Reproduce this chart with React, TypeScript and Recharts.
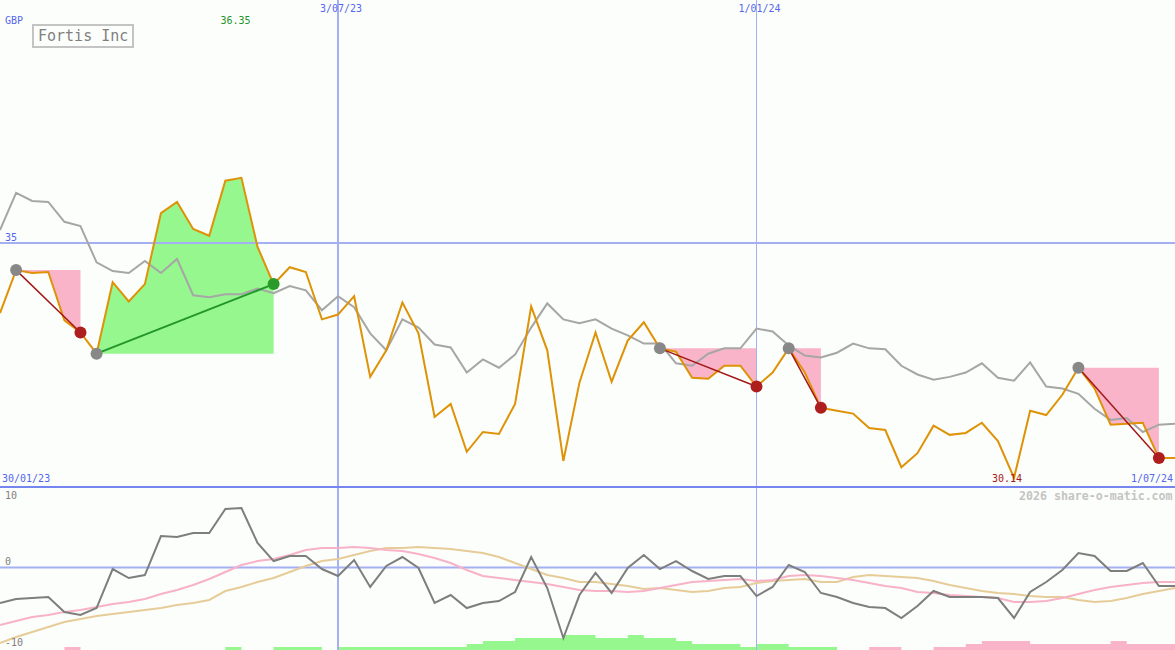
import React from 'react';
import { ComposedChart, Line, Area, XAxis, YAxis, ReferenceLine } from 'recharts';

// weekly closes, 30/01/23 .. 1/07/24 (GBP)
const price = [
  33.55, 34.44, 34.38, 34.4, 33.4, 33.15, 32.71, 34.19, 33.79, 34.15,
  35.62, 35.85, 35.29, 35.15, 36.29, 36.35, 34.92, 34.15, 34.5, 34.4,
  33.42, 33.52, 33.9, 32.23, 32.78, 33.77, 33.13, 31.4, 31.67, 30.68,
  31.09, 31.05, 31.67, 33.69, 32.78, 30.49, 32.11, 33.15, 32.13, 32.98,
  33.36, 32.82, 32.75, 32.21, 32.19, 32.46, 32.46, 32.03, 32.32, 32.82,
  32.32, 31.59, 31.53, 31.47, 31.17, 31.13, 30.36, 30.65, 31.22, 31.03,
  31.07, 31.28, 30.9, 30.14, 31.53, 31.44, 31.86, 32.42, 31.99, 31.24,
  31.26, 31.28, 30.55, 30.55,
];

// grey comparison line
const sector = [
  35.27, 36.04, 35.87, 35.85, 35.44, 35.35, 34.6, 34.42, 34.38, 34.63,
  34.38, 34.67, 33.92, 33.88, 33.94, 33.94, 34.06, 33.96, 34.11, 34.02,
  33.61, 33.9, 33.67, 33.13, 32.78, 33.42, 33.25, 32.9, 32.84, 32.32,
  32.59, 32.42, 32.69, 33.25, 33.75, 33.42, 33.34, 33.42, 33.23, 33.09,
  32.92, 32.92, 32.51, 32.46, 32.71, 32.82, 32.82, 33.23, 33.17, 32.88,
  32.67, 32.63, 32.73, 32.92, 32.82, 32.8, 32.46, 32.28, 32.17, 32.23,
  32.32, 32.51, 32.21, 32.15, 32.53, 32.03, 31.99, 31.88, 31.57, 31.34,
  31.38, 31.09, 31.24, 31.26,
];

// lower panel
const momentum = [
  -5.38, -4.77, -4.62, -4.47, -6.74, -7.2, -6.14, -0.23, -1.59, -1.14,
  4.77, 4.62, 5.23, 5.23, 8.86, 9.02, 3.71, 0.98, 1.74, 1.74,
  -0.23, -1.29, 1.14, -2.95, 0.23, 1.59, -0.08, -5.38, -4.17, -6.14,
  -5.38, -5.08, -3.71, 1.59, -3.11, -10.68, -4.17, -0.83, -3.86, -0.08,
  1.89, -0.23, 0.98, -0.53, -1.74, -1.29, -1.29, -4.32, -2.95, 0.38,
  -0.68, -3.86, -4.47, -5.38, -5.98, -6.14, -7.65, -5.83, -3.56, -4.47,
  -4.47, -4.47, -4.62, -7.65, -3.71, -2.2, -0.38, 2.2, 1.74, -0.53,
  -0.53, 0.68, -2.8, -2.8,
];

const fastAvg = [
  -8.71, -8.11, -7.5, -7.2, -6.74, -6.44, -5.98, -5.53, -5.23, -4.77,
  -4.02, -3.41, -2.65, -1.74, -0.68, 0.38, 0.98, 1.29, 1.89, 2.65,
  2.95, 2.95, 3.11, 2.95, 2.65, 2.5, 2.05, 1.44, 0.68, -0.38,
  -1.29, -1.59, -1.89, -2.2, -2.5, -2.95, -3.41, -3.56, -3.56, -3.71,
  -3.56, -3.11, -2.65, -2.2, -2.05, -1.89, -1.74, -2.05, -1.89, -1.29,
  -1.14, -1.29, -1.59, -1.89, -2.35, -2.8, -3.11, -3.71, -3.86, -4.17,
  -4.32, -4.47, -4.62, -5.23, -5.23, -5.08, -4.62, -4.02, -3.41, -2.95,
  -2.65, -2.35, -2.2, -2.2,
];

const slowAvg = [
  -11.44, -10.53, -9.77, -9.02, -8.26, -7.8, -7.35, -7.05, -6.74, -6.44,
  -6.14, -5.68, -5.38, -4.92, -3.56, -2.95, -2.2, -1.59, -0.68, 0.23,
  0.98, 1.29, 1.89, 2.5, 2.95, 2.95, 3.11, 2.95, 2.8, 2.5,
  2.2, 1.59, 0.68, -0.23, -1.14, -1.59, -2.2, -2.2, -2.5, -2.8,
  -3.26, -3.11, -3.41, -3.71, -3.56, -3.11, -2.95, -2.35, -2.05, -1.89,
  -1.74, -2.2, -2.2, -1.44, -1.14, -1.29, -1.44, -1.59, -2.05, -2.65,
  -3.11, -3.56, -3.86, -4.02, -4.32, -4.47, -4.47, -4.92, -5.23, -5.08,
  -4.62, -4.02, -3.56, -3.11,
];

// histogram steps (+ green, - pink)
const hist = [
  0, 0, 0, 0, -1, 0, 0, 0, 0, 0,
  0, 0, 0, 0, 1, 0, 0, 1, 1, 1,
  0, 1, 1, 1, 1, 1, 1, 1, 1, 2,
  3, 3, 4, 4, 4, 5, 5, 4, 4, 5,
  4, 4, 3, 2, 2, 2, 1, 2, 2, 1,
  1, 1, 0, 0, -1, -1, 0, 0, -1, -1,
  -2, -3, -3, -3, -2, -2, -2, -2, -2, -3,
  -2, -2, -2, 0,
];

// signals: week index of entry and exit
const trades = [
  { from: 1, to: 5 },
  { from: 6, to: 17 },
  { from: 41, to: 47 },
  { from: 49, to: 51 },
  { from: 67, to: 72 },
];

const dateLines = [
  { at: 21, label: '3/07/23', w: 2 },
  { at: 47, label: '1/01/24', w: 1 },
];

const W = 1175;
const TOP_H = 488;
const BOT_H = 162;
const LAST = price.length - 1;
const STEP = W / LAST;

const GRID = '#a4b0f2';
const BLUE = '#5566ee';

const rows = price.map((p, i) => {
  const row: Record<string, number | null> = {
    i,
    price: p,
    sector: sector[i],
    mom: momentum[i],
    fast: fastAvg[i],
    slow: slowAvg[i],
    up: hist[i] > 0 ? hist[i] : 0,
    down: hist[i] < 0 ? -hist[i] : 0,
  };
  trades.forEach((t, k) => {
    row['a' + k] = i >= t.from && i <= t.to ? p : null;
    row['t' + k] = i === t.from || i === t.to ? p : null;
  });
  return row;
});

const hiIdx = price.indexOf(Math.max(...price));
const loIdx = price.indexOf(Math.min(...price));

const tradeDot = (t: { from: number; to: number }, k: number) => (props: any) => {
  const { cx, cy, index } = props;
  const key = 'd' + k + '-' + index;
  if (cy == null || cx == null || (index !== t.from && index !== t.to)) return <g key={key} />;
  const win = price[t.to] > price[t.from];
  const fill = index === t.from ? '#888888' : win ? '#2a9a2a' : '#ae1e1e';
  return <circle key={key} cx={cx} cy={cy} r={6} fill={fill} stroke="none" />;
};

const Txt = ({ x, y, color, size = 10, bold = false, children }: any) => (
  <div
    style={{
      position: 'absolute',
      left: x,
      top: y,
      color,
      fontSize: size,
      lineHeight: '12px',
      fontWeight: bold ? 'bold' : 'normal',
      whiteSpace: 'nowrap',
    }}
  >
    {children}
  </div>
);

export default function App() {
  return (
    <div
      style={{
        position: 'absolute',
        left: 0,
        top: 0,
        width: W,
        height: 650,
        background: '#fcfefb',
        overflow: 'hidden',
        fontFamily: '"DejaVu Sans Mono", monospace',
      }}
    >
      <div style={{ position: 'absolute', left: 0, top: 0 }}>
        <ComposedChart width={W} height={TOP_H} data={rows} margin={{ top: 0, right: 0, bottom: 0, left: 0 }}>
          <XAxis type="number" dataKey="i" domain={[0, LAST]} allowDataOverflow hide />
          <YAxis type="number" domain={[29.93, 40.03]} allowDataOverflow hide />
          <ReferenceLine y={35} stroke={GRID} strokeWidth={2} />
          {dateLines.map((d) => (
            <ReferenceLine key={d.label} x={d.at} stroke={GRID} strokeWidth={d.w} />
          ))}
          {trades.map((t, k) => (
            <Area
              key={'a' + k}
              dataKey={'a' + k}
              type="linear"
              baseValue={price[t.from]}
              stroke="none"
              fill={price[t.to] > price[t.from] ? '#96f78e' : '#f9b4ca'}
              fillOpacity={1}
              isAnimationActive={false}
              dot={false}
              activeDot={false}
            />
          ))}
          <Line dataKey="sector" type="linear" stroke="#a6a6a6" strokeWidth={2} dot={false} activeDot={false} isAnimationActive={false} />
          <Line dataKey="price" type="linear" stroke="#de9206" strokeWidth={2} dot={false} activeDot={false} isAnimationActive={false} />
          {trades.map((t, k) => (
            <Line
              key={'t' + k}
              dataKey={'t' + k}
              type="linear"
              connectNulls
              stroke={price[t.to] > price[t.from] ? '#22962a' : '#a41818'}
              strokeWidth={price[t.to] > price[t.from] ? 2 : 1.5}
              dot={tradeDot(t, k)}
              activeDot={false}
              isAnimationActive={false}
            />
          ))}
        </ComposedChart>
      </div>

      <div style={{ position: 'absolute', left: 0, top: TOP_H - 2, width: W, height: 2, background: '#7686ee' }} />

      <div style={{ position: 'absolute', left: 0, top: TOP_H }}>
        <ComposedChart width={W} height={BOT_H} data={rows} margin={{ top: 0, right: 0, bottom: 0, left: 0 }}>
          <XAxis type="number" dataKey="i" domain={[0, LAST]} allowDataOverflow hide />
          <YAxis yAxisId="osc" type="number" domain={[-12.5, 12.05]} allowDataOverflow hide />
          <YAxis yAxisId="hist" type="number" domain={[0, 54]} allowDataOverflow hide />
          <Area yAxisId="hist" dataKey="up" type="stepAfter" stroke="none" fill="#96f78e" fillOpacity={1} dot={false} activeDot={false} isAnimationActive={false} />
          <Area yAxisId="hist" dataKey="down" type="stepAfter" stroke="none" fill="#f9b4ca" fillOpacity={1} dot={false} activeDot={false} isAnimationActive={false} />
          <ReferenceLine yAxisId="osc" y={0} stroke={GRID} strokeWidth={2} />
          {dateLines.map((d) => (
            <ReferenceLine key={d.label} yAxisId="osc" x={d.at} stroke={GRID} strokeWidth={d.w} />
          ))}
          <Line yAxisId="osc" dataKey="slow" type="linear" stroke="#e6cc98" strokeWidth={2} dot={false} activeDot={false} isAnimationActive={false} />
          <Line yAxisId="osc" dataKey="fast" type="linear" stroke="#f8b2c8" strokeWidth={2} dot={false} activeDot={false} isAnimationActive={false} />
          <Line yAxisId="osc" dataKey="mom" type="linear" stroke="#7e7e7e" strokeWidth={2} dot={false} activeDot={false} isAnimationActive={false} />
        </ComposedChart>
      </div>

      <Txt x={5} y={15} color={BLUE}>GBP</Txt>
      <div
        style={{
          position: 'absolute',
          left: 32,
          top: 24,
          width: 94,
          height: 20,
          border: '2px solid #c4c4c4',
          color: '#808080',
          fontSize: 15,
          lineHeight: '20px',
          paddingLeft: 4,
          boxSizing: 'content-box',
          whiteSpace: 'nowrap',
        }}
      >
        Fortis Inc
      </div>
      <Txt x={hiIdx * STEP - 21} y={15} color="#22962a">{price[hiIdx].toFixed(2)}</Txt>
      <Txt x={loIdx * STEP - 22} y={473} color="#a41818">{price[loIdx].toFixed(2)}</Txt>
      {dateLines.map((d) => (
        <Txt key={d.label} x={d.at * STEP - 18} y={3} color={BLUE}>{d.label}</Txt>
      ))}
      <Txt x={5} y={232} color={BLUE}>35</Txt>
      <Txt x={2} y={473} color={BLUE}>30/01/23</Txt>
      <Txt x={1131} y={473} color={BLUE}>1/07/24</Txt>
      <Txt x={1019} y={490} color="#c4c4c4" size={11.6} bold>2026 share-o-matic.com</Txt>
      <Txt x={5} y={490} color="#808080">10</Txt>
      <Txt x={5} y={556} color="#808080">0</Txt>
      <Txt x={5} y={637} color="#808080">-10</Txt>
    </div>
  );
}
